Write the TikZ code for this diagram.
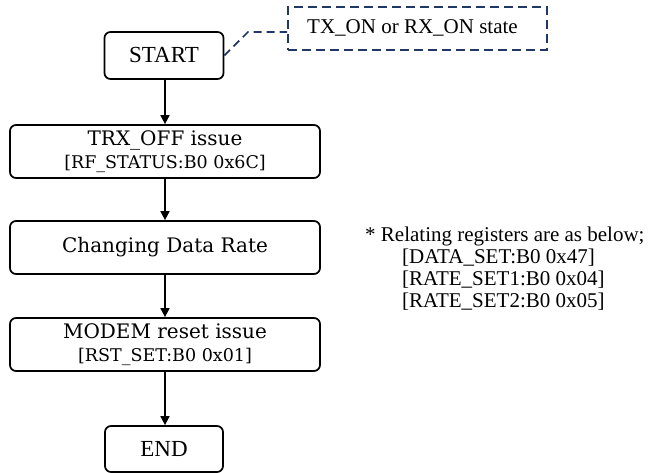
\documentclass[tikz,border=0pt]{standalone}
\usepackage{fontspec}
\setmainfont{Liberation Serif}
\newfontfamily\boxfont{DejaVu Serif}
\usetikzlibrary{arrows.meta}
\definecolor{navy}{HTML}{1F3868}
\tikzset{
  flowbox/.style={draw, line width=1.7pt, rounded corners=6pt, inner sep=0pt, align=center,
    font=\boxfont\fontsize{20}{23}\selectfont},
  termbox/.style={draw, line width=1.7pt, rounded corners=6pt, inner sep=0pt,
    font=\fontsize{23}{26}\selectfont},
  arr/.style={line width=1.7pt, -{Triangle[length=9pt,width=9pt]}},
  notebox/.style={draw=navy, line width=1.7pt, dash pattern=on 9pt off 5pt, inner sep=0pt, font=\fontsize{21}{24}\selectfont},
  noteline/.style={draw=navy, line width=1.7pt, dash pattern=on 8pt off 5pt},
  reg/.style={anchor=base west, inner sep=0pt, font=\fontsize{21}{24}\selectfont},
}
\newcommand{\smallline}{\fontsize{17.5}{20}\selectfont}
\begin{document}
\begin{tikzpicture}[x=1pt,y=-1pt]
\useasboundingbox (0,0) rectangle (651,473);
\node[termbox, minimum width=119pt, minimum height=47pt] (start) at (164,55.5) {START};
\node[flowbox, minimum width=310pt, minimum height=53pt] (trx) at (165,151.5)
  {TRX\_OFF issue\\{\smallline [RF\_STATUS:B0 0x6C]}};
\node[flowbox, minimum width=310pt, minimum height=53pt] (rate) at (165,247.5)
  {Changing Data Rate};
\node[flowbox, minimum width=310pt, minimum height=53pt] (modem) at (165,344.5)
  {MODEM reset issue\\{\smallline [RST\_SET:B0 0x01]}};
\node[termbox, minimum width=118pt, minimum height=46pt] (end) at (164,449) {END};

\draw[arr] (start.south -| trx.north) -- (trx.north);
\draw[arr] (trx) -- (rate);
\draw[arr] (rate) -- (modem);
\draw[arr] (modem.south) -- (modem.south |- end.north);

\node[notebox, minimum width=259pt, minimum height=43pt] (note) at (417.5,28.5)
  {\raisebox{3pt}{TX\_ON or RX\_ON state}\hspace*{10pt}};
\coordinate (bend) at (248,32);
\draw[noteline] (start.east) -- (bend) -- (bend -| note.west);

\node[reg] (r1) at (365,242) {* Relating registers are as below;};
\node[reg] (r2) at (402,264) {[DATA\_SET:B0 0x47]};
\node[reg] (r3) at (402,286) {[RATE\_SET1:B0 0x04]};
\node[reg] (r4) at (402,308) {[RATE\_SET2:B0 0x05]};
\end{tikzpicture}
\end{document}
